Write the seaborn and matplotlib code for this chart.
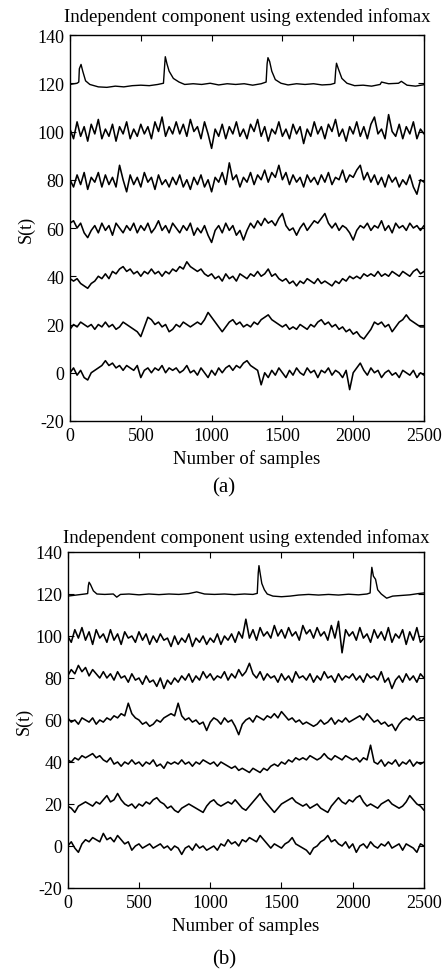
import numpy as np
import pandas as pd
import matplotlib
matplotlib.use('Agg')
import matplotlib.pyplot as plt
import seaborn as sns

# sample axis for the noisy components (one value read every 25 samples)
samples = np.arange(0, 2501, 25)

# ---- panel (a) ----
a_spike_x = [0, 50, 62, 66, 78, 90, 110, 140, 200, 260, 320, 380, 440, 500, 560, 620, 660, 668, 673, 685,
             700, 730, 770, 810, 870, 930, 990, 1050, 1110, 1170, 1230, 1290, 1350, 1385, 1392, 1398, 1410,
             1425, 1450, 1490, 1540, 1600, 1660, 1720, 1780, 1840, 1870, 1876, 1882, 1895, 1920, 1956, 2010,
             2070, 2130, 2190, 2200, 2250, 2320, 2340, 2380, 2440, 2500]
a_spike_y = [119.5, 120, 120.5, 126, 127.8, 125, 121, 119.5, 118.5, 118.3, 118.8, 118.5, 119, 119.2, 119,
             119.5, 120, 127, 131, 128, 125, 122, 120.5, 119.5, 119.8, 119.5, 120, 119.3, 119.8, 119.5, 119.8,
             119.2, 119.8, 120.5, 128, 130.6, 129, 125, 121.5, 120, 119.3, 119.8, 119.5, 119.8, 119.3, 119.5,
             120, 125, 128.3, 126, 122, 120, 119, 119.2, 118.8, 119.5, 120.5, 119.8, 120, 120.8, 119.2, 118.8,
             119.4]

a_100 = [101, 97, 104, 98, 102, 96, 103, 99, 105, 97,
         101, 98, 103, 96, 102, 99, 104, 97, 101, 98,
         103, 99, 102, 97, 104, 100, 106, 98, 102, 99,
         104, 99, 103, 98, 105, 100, 102, 97, 104, 99,
         93, 101, 98, 103, 97, 102, 99, 104, 98, 101,
         97, 103, 100, 105, 98, 102, 96, 101, 99, 104,
         98, 101, 97, 103, 99, 102, 95, 101, 98, 104,
         99, 102, 97, 103, 100, 105, 98, 101, 96, 102,
         99, 104, 98, 102, 97, 103, 106, 99, 101, 97,
         107, 100, 98, 103, 97, 102, 99, 104, 97, 101, 99]
a_80 = [80, 77, 82, 78, 83, 76, 81, 79, 83, 77,
        82, 78, 81, 77, 86, 80, 75, 82, 78, 81,
        77, 83, 79, 81, 76, 82, 78, 80, 77, 81,
        78, 82, 77, 80, 76, 81, 78, 82, 77, 80,
        75, 81, 79, 83, 78, 87, 80, 82, 77, 81,
        79, 83, 78, 82, 80, 84, 79, 83, 81, 86,
        80, 83, 78, 82, 79, 81, 77, 82, 79, 81,
        78, 82, 79, 83, 78, 81, 80, 84, 79, 82,
        81, 84, 86, 80, 83, 79, 82, 78, 81, 77,
        82, 79, 81, 77, 80, 78, 82, 77, 74, 80, 79]
a_60 = [62, 63, 60, 62, 58, 56, 59, 61, 58, 62,
        59, 61, 57, 62, 60, 58, 61, 59, 62, 58,
        61, 59, 62, 58, 60, 63, 59, 61, 58, 62,
        60, 58, 61, 59, 62, 57, 60, 58, 61, 57,
        54, 59, 61, 58, 62, 59, 61, 57, 59, 55,
        59, 62, 60, 63, 61, 64, 62, 63, 61, 64,
        66, 61, 59, 60, 57, 60, 62, 59, 61, 63,
        62, 64, 66, 62, 60, 62, 59, 61, 60, 58,
        55, 59, 61, 60, 62, 59, 61, 60, 63, 59,
        61, 58, 62, 60, 61, 59, 62, 60, 61, 59, 61]
a_40 = [39, 38, 39, 37, 36, 35, 37, 38, 40, 39,
        41, 39, 42, 41, 43, 44, 42, 43, 41, 42,
        40, 42, 41, 43, 41, 42, 40, 42, 41, 43,
        42, 44, 43, 46, 44, 43, 42, 43, 41, 40,
        41, 39, 40, 38, 41, 39, 40, 38, 41, 40,
        39, 41, 40, 42, 40, 41, 43, 40, 41, 39,
        38, 39, 37, 38, 36, 38, 37, 39, 38, 37,
        39, 37, 38, 37, 36, 38, 37, 39, 38, 40,
        39, 40, 39, 41, 40, 41, 40, 42, 40, 41,
        40, 42, 41, 40, 42, 41, 40, 42, 43, 41, 42]
a_20 = [18, 20, 19, 21, 20, 19, 20, 18, 20, 19,
        21, 19, 20, 18, 19, 21, 20, 19, 18, 17,
        15, 19, 23, 22, 20, 21, 19, 20, 17, 18,
        20, 19, 21, 20, 19, 20, 21, 20, 22, 25,
        23, 21, 19, 17, 19, 21, 22, 20, 21, 19,
        20, 19, 21, 20, 22, 23, 24, 22, 21, 20,
        19, 20, 18, 19, 18, 20, 19, 18, 20, 19,
        21, 22, 20, 21, 19, 20, 18, 19, 17, 18,
        16, 17, 15, 14, 16, 18, 21, 20, 21, 19,
        20, 17, 19, 21, 22, 24, 22, 21, 20, 19, 19]
a_0 = [0, 2, -1, 1, -2, -3, 0, 1, 2, 3,
       5, 3, 4, 2, 3, 1, 3, 2, 1, 3,
       -2, 1, 2, 0, 2, 1, 3, 0, 2, 1,
       2, 0, 1, 3, 0, 1, -1, 2, 0, -2,
       1, -1, 2, 0, 2, 3, 1, 3, 2, 4,
       5, 3, 2, 1, -5, 0, -2, 1, -1, 2,
       0, -2, 1, -1, 2, 0, -1, 2, 0, 1,
       -2, 1, 0, 2, -1, 1, 0, -2, 1, -7,
       0, 2, 4, 1, -1, 2, 0, 1, -2, 0,
       1, -1, 0, -2, 1, 0, -1, 1, -2, 0, -1]

# ---- panel (b) ----
b_spike_x = [0, 60, 120, 140, 145, 150, 160, 180, 205, 260, 320, 344, 370, 430, 500, 570, 640, 710, 780, 850,
             905, 960, 1030, 1100, 1170, 1240, 1300, 1330, 1337, 1342, 1350, 1362, 1380, 1400, 1440, 1500,
             1560, 1620, 1690, 1760, 1830, 1900, 1970, 2040, 2100, 2122, 2128, 2134, 2145, 2160, 2175, 2200,
             2238, 2280, 2340, 2400, 2460, 2500]
b_spike_y = [119, 119.5, 120, 120.2, 124, 125.6, 124.5, 121.5, 120, 119.8, 120, 118.5, 119.8, 120, 119.6,
             120, 119.7, 120, 119.8, 120.2, 121, 120, 119.8, 120, 119.7, 120, 119.8, 120.3, 130, 133.5, 130,
             125, 122, 120, 119, 118.7, 119, 119.5, 119.8, 119.5, 119.8, 119.5, 119.9, 119.6, 120, 120.5,
             128, 132.7, 128.5, 127, 122, 120, 118, 119, 119.3, 119.6, 120.2, 120.5]

b_100 = [100, 97, 103, 99, 104, 98, 102, 96, 103, 99,
         101, 97, 103, 98, 101, 96, 102, 99, 100, 97,
         102, 98, 101, 96, 100, 97, 101, 98, 99, 95,
         100, 96, 99, 97, 101, 95, 99, 97, 100, 96,
         99, 97, 101, 96, 100, 98, 101, 97, 102, 99,
         108, 99, 103, 98, 104, 100, 102, 99, 105, 100,
         103, 99, 104, 100, 102, 98, 105, 101, 103, 99,
         104, 100, 102, 98, 105, 99, 107, 92, 103, 100,
         102, 98, 104, 99, 101, 97, 103, 99, 102, 98,
         104, 97, 101, 99, 103, 96, 102, 98, 104, 97, 99]
b_80 = [81, 84, 82, 86, 83, 85, 81, 84, 82, 80,
        83, 80, 82, 79, 83, 80, 81, 78, 82, 79,
        80, 77, 81, 78, 79, 76, 80, 75, 79, 77,
        80, 78, 81, 79, 82, 78, 81, 79, 83, 80,
        82, 79, 81, 80, 83, 79, 82, 80, 84, 81,
        83, 87, 82, 80, 83, 79, 82, 80, 81, 78,
        82, 79, 81, 78, 83, 80, 81, 79, 82, 78,
        81, 79, 83, 80, 81, 78, 82, 79, 81, 80,
        82, 79, 81, 78, 82, 80, 81, 79, 83, 78,
        80, 75, 79, 81, 78, 82, 79, 81, 78, 82, 80]
b_60 = [61, 59, 60, 58, 61, 60, 59, 61, 58, 60,
        59, 61, 60, 62, 61, 63, 62, 68, 63, 61,
        60, 58, 59, 57, 58, 60, 59, 61, 62, 63,
        62, 68, 62, 60, 61, 59, 60, 58, 59, 55,
        59, 61, 60, 58, 61, 59, 60, 57, 53, 58,
        60, 61, 59, 62, 61, 60, 62, 61, 63, 61,
        64, 62, 60, 61, 59, 60, 58, 59, 58, 57,
        58, 60, 58, 59, 61, 58, 60, 59, 61, 59,
        60, 61, 62, 60, 63, 61, 59, 60, 58, 59,
        57, 58, 55, 58, 60, 61, 60, 62, 60, 61, 61]
b_40 = [41, 40, 42, 41, 43, 42, 43, 44, 42, 43,
        41, 40, 42, 39, 40, 38, 40, 39, 41, 39,
        40, 38, 40, 39, 41, 38, 39, 37, 40, 39,
        40, 39, 41, 39, 40, 38, 40, 39, 41, 40,
        39, 40, 38, 40, 39, 38, 37, 38, 36, 37,
        36, 35, 37, 36, 35, 37, 36, 38, 39, 38,
        40, 39, 41, 40, 42, 41, 42, 41, 43, 42,
        41, 42, 44, 42, 41, 43, 42, 41, 43, 42,
        41, 42, 40, 42, 41, 48, 40, 39, 41, 38,
        40, 39, 41, 38, 40, 39, 41, 38, 40, 39, 40]
b_20 = [19, 18, 16, 19, 20, 21, 20, 19, 21, 20,
        22, 24, 21, 22, 25, 22, 20, 19, 20, 18,
        20, 19, 21, 20, 22, 23, 21, 20, 18, 19,
        17, 16, 18, 19, 20, 19, 18, 17, 16, 19,
        21, 22, 20, 19, 20, 21, 20, 22, 20, 18,
        17, 19, 21, 23, 25, 22, 20, 18, 16, 18,
        20, 21, 22, 23, 21, 20, 19, 20, 18, 19,
        20, 18, 17, 16, 19, 21, 23, 21, 20, 22,
        21, 23, 24, 21, 19, 20, 19, 18, 20, 21,
        22, 20, 19, 18, 19, 21, 24, 22, 20, 19, 17]
b_0 = [0, 2, -1, -3, 1, 3, 2, 4, 3, 2,
       6, 3, 4, 2, 5, 3, 1, 2, -2, 0,
       1, -1, 0, 1, -1, 0, 1, -1, 0, -2,
       0, -1, -4, -1, 0, -2, 1, -1, 0, -2,
       -1, 0, -2, 1, 0, 3, 1, 2, 0, 3,
       2, 4, 3, 2, 5, 3, 1, -1, 1, 0,
       -1, 1, 2, 4, 1, 0, -1, -2, -4, -1,
       0, 2, 3, 5, 2, 3, 1, 0, 2, -1,
       1, -3, 0, 1, -1, 2, 0, -1, 1, 0,
       2, -1, 0, 1, -2, 1, 0, -1, -3, 1, 0]

title = 'Independent component using extended infomax'
xticks = [0, 500, 1000, 1500, 2000, 2500]
yticks = [-20, 0, 20, 40, 60, 80, 100, 120, 140]

sns.set_style('ticks')
plt.rcParams['font.family'] = ['Liberation Serif', 'DejaVu Serif']
plt.rcParams['axes.edgecolor'] = 'black'
plt.rcParams['axes.linewidth'] = 1.0
plt.rcParams['axes.unicode_minus'] = False
plt.rcParams['text.color'] = 'black'
plt.rcParams['axes.labelcolor'] = 'black'

fig = plt.figure(figsize=(4.48, 9.70), dpi=100)
ax_a = fig.add_axes([70 / 448, 1 - 422 / 970, 354 / 448, 386 / 970])
ax_b = fig.add_axes([67.7 / 448, 1 - 889 / 970, 356.3 / 448, 336 / 970])


def draw_panel(ax, spike_x, spike_y, noisy, title_pad):
    sns.lineplot(x=spike_x, y=spike_y, ax=ax, color='black', lw=1.0, sort=False, estimator=None)
    for trace in noisy:
        sns.lineplot(x=samples, y=trace, ax=ax, color='black', lw=1.15, sort=False, estimator=None)
    ax.set_xlim(0, 2500)
    ax.set_ylim(-20, 140)
    ax.set_xticks(xticks)
    ax.set_yticks(yticks)
    ax.tick_params(direction='in', top=True, right=True, length=4, width=0.8,
                   labelsize=13, colors='black', pad=4)
    ax.set_title(title, fontsize=13.5, pad=title_pad, color='black')
    ax.set_xlabel('Number of samples', fontsize=13.5, labelpad=4)
    ax.set_ylabel('S(t)', fontsize=13, labelpad=2)
    for s in ax.spines.values():
        s.set_visible(True)
        s.set_color('black')


draw_panel(ax_a, a_spike_x, a_spike_y, [a_100, a_80, a_60, a_40, a_20, a_0], 10)
draw_panel(ax_b, b_spike_x, b_spike_y, [b_100, b_80, b_60, b_40, b_20, b_0], 7)

fig.text(0.5, 1 - 488 / 970, '(a)', ha='center', va='center', fontsize=15)
fig.text(0.5, 1 - 960 / 970, '(b)', ha='center', va='center', fontsize=15)

fig.savefig('out.png', dpi=100)
